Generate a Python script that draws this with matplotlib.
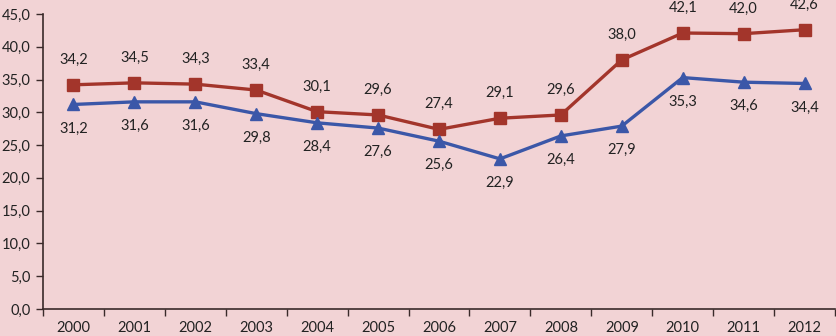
import matplotlib
matplotlib.use("Agg")
import matplotlib.pyplot as plt
import numpy as np

years = ["2000", "2001", "2002", "2003", "2004", "2005", "2006",
         "2007", "2008", "2009", "2010", "2011", "2012"]
red_vals = [34.2, 34.5, 34.3, 33.4, 30.1, 29.6, 27.4, 29.1, 29.6, 38.0, 42.1, 42.0, 42.6]
blue_vals = [31.2, 31.6, 31.6, 29.8, 28.4, 27.6, 25.6, 22.9, 26.4, 27.9, 35.3, 34.6, 34.4]

bg = "#F2D3D5"
red = "#A3352B"
blue = "#3B57A8"
axcol = "#3A2A2A"

plt.rcParams['font.family'] = ['Lato', 'DejaVu Sans']

fig = plt.figure(figsize=(8.36, 3.36), dpi=100, facecolor=bg)
ax = fig.add_axes([43 / 836, 1 - 309 / 336, 792 / 836, 295 / 336])
ax.set_facecolor(bg)

x = np.arange(len(years))
ax.plot(x, red_vals, color=red, lw=2.4, marker="s", ms=8, zorder=3)
ax.plot(x, blue_vals, color=blue, lw=2.4, marker="^", ms=9, zorder=3)

def fmt(v):
    return f"{v:.1f}".replace(".", ",")

for i, v in enumerate(red_vals):
    ax.annotate(fmt(v), (i, v), xytext=(0, 25), textcoords="offset pixels",
                ha="center", va="center", fontsize=10.5, color="#222222")
for i, v in enumerate(blue_vals):
    ax.annotate(fmt(v), (i, v), xytext=(0, -24), textcoords="offset pixels",
                ha="center", va="center", fontsize=10.5, color="#222222")

ax.set_xlim(-0.5, len(years) - 0.5)
ax.set_ylim(0, 45)
ax.set_yticks(np.arange(0, 46, 5))
ax.set_yticklabels([fmt(v) for v in np.arange(0, 46, 5)], fontsize=10.5, color="#222222")
ax.set_xticks(x)
ax.set_xticklabels(years, fontsize=10.5, color="#222222")
ax.set_xticks(np.arange(-0.5, len(years), 1), minor=True)
ax.tick_params(axis="x", which="major", length=0, pad=9)
ax.tick_params(axis="x", which="minor", length=5, width=1, color=axcol, direction="out")
ax.tick_params(axis="y", length=5, width=1, color=axcol, direction="out", pad=4)

for s in ["top", "right"]:
    ax.spines[s].set_visible(False)
for s in ["left", "bottom"]:
    ax.spines[s].set_color(axcol)
    ax.spines[s].set_linewidth(1.2)

fig.savefig("out.png", dpi=100, facecolor=bg)
